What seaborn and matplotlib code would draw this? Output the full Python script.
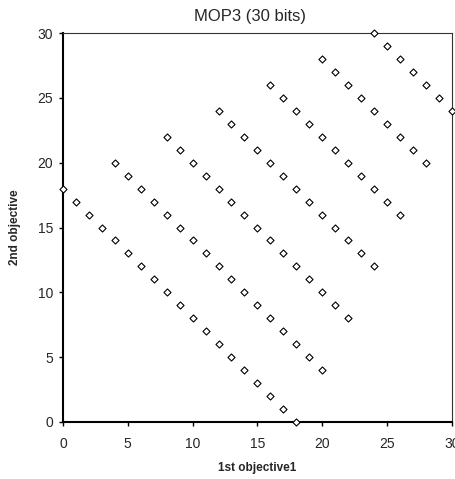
import seaborn as sns
import pandas as pd
import matplotlib.pyplot as plt

sns.set_theme(style="white")
plt.rcParams['font.family'] = ['Liberation Sans', 'DejaVu Sans']

# pontos do front de pareto (cada linha diagonal)
obj1 = [0, 1, 2, 3, 4, 5, 6, 7, 8, 9, 10, 11, 12, 13, 14, 15, 16, 17, 18,
        4, 5, 6, 7, 8, 9, 10, 11, 12, 13, 14, 15, 16, 17, 18, 19, 20,
        8, 9, 10, 11, 12, 13, 14, 15, 16, 17, 18, 19, 20, 21, 22,
        12, 13, 14, 15, 16, 17, 18, 19, 20, 21, 22, 23, 24,
        16, 17, 18, 19, 20, 21, 22, 23, 24, 25, 26,
        20, 21, 22, 23, 24, 25, 26, 27, 28,
        24, 25, 26, 27, 28, 29, 30]
obj2 = [18, 17, 16, 15, 14, 13, 12, 11, 10, 9, 8, 7, 6, 5, 4, 3, 2, 1, 0,
        20, 19, 18, 17, 16, 15, 14, 13, 12, 11, 10, 9, 8, 7, 6, 5, 4,
        22, 21, 20, 19, 18, 17, 16, 15, 14, 13, 12, 11, 10, 9, 8,
        24, 23, 22, 21, 20, 19, 18, 17, 16, 15, 14, 13, 12,
        26, 25, 24, 23, 22, 21, 20, 19, 18, 17, 16,
        28, 27, 26, 25, 24, 23, 22, 21, 20,
        30, 29, 28, 27, 26, 25, 24]

df = pd.DataFrame({'obj1': obj1, 'obj2': obj2})

fig = plt.figure(figsize=(4.56, 4.79), dpi=100)
ax = fig.add_axes([0.138, 0.119, 0.853, 0.812])

plot = sns.scatterplot(data=df, x='obj1', y='obj2', marker='D', s=13,
                       facecolor='white', edgecolor='black', linewidth=0.8,
                       ax=ax, clip_on=False, zorder=5)

ax.set_xlim(0, 30)
ax.set_ylim(0, 30)
ax.set_xticks([0, 5, 10, 15, 20, 25, 30])
ax.set_yticks([0, 5, 10, 15, 20, 25, 30])

ax.set_title('MOP3 (30 bits)', fontsize=12, pad=9, x=0.48)
ax.set_xlabel('1st objective1', fontsize=8.5, fontweight='bold', labelpad=8)
ax.set_ylabel('2nd objective', fontsize=8.5, fontweight='bold', labelpad=12)

ax.tick_params(axis='both', labelsize=10, direction='out', length=3, width=1,
               color='black', bottom=True, left=True)
ax.tick_params(axis='x', pad=8)
ax.tick_params(axis='y', pad=4)

for s in ['left', 'bottom']:
    ax.spines[s].set_color('black')
    ax.spines[s].set_linewidth(1.5)
for s in ['top', 'right']:
    ax.spines[s].set_color('#333333')
    ax.spines[s].set_linewidth(0.8)

ax.grid(False)
plt.savefig('out.png', dpi=100)
